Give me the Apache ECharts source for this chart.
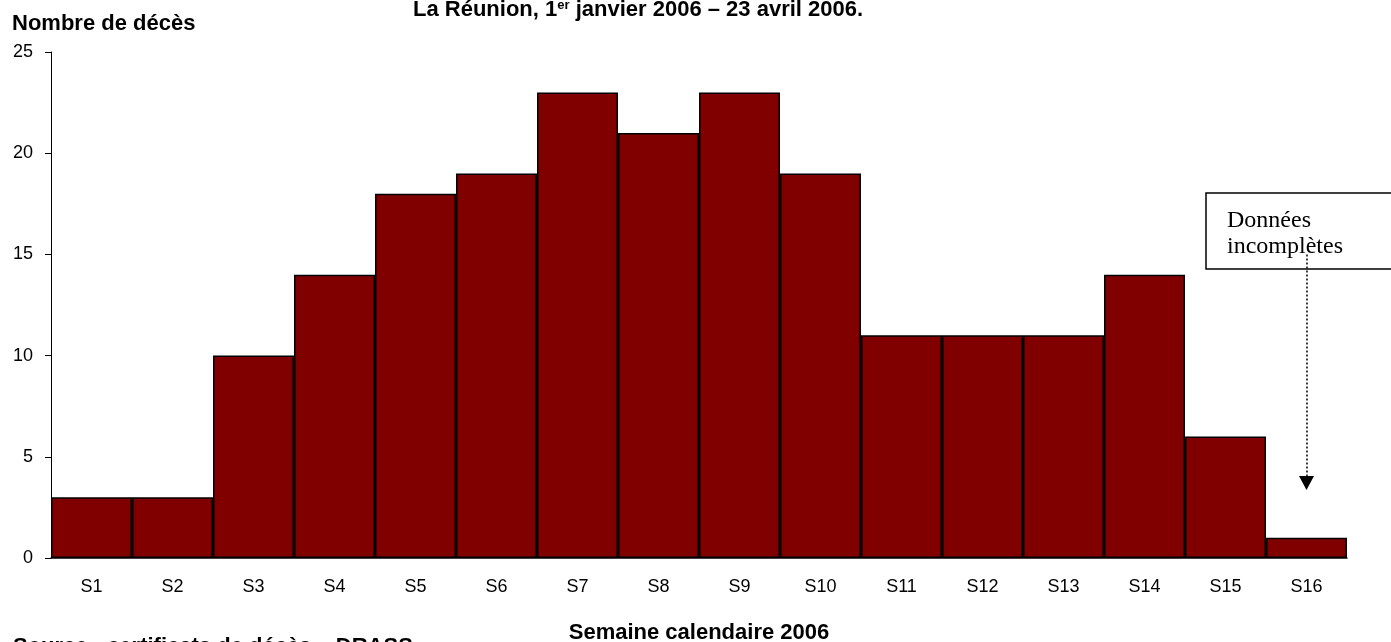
<!DOCTYPE html>
<html>
<head>
<meta charset="utf-8">
<script src="https://cdn.jsdelivr.net/npm/echarts@6/dist/echarts.min.js"></script>
<style>
  html, body { margin: 0; padding: 0; background: #fff; }
  #chart { width: 1391px; height: 642px; }
</style>
</head>
<body>
<div id="chart"></div>
<script>
// semaines calendaires 2006
const weeks = ['S1', 'S2', 'S3', 'S4', 'S5', 'S6', 'S7', 'S8', 'S9', 'S10', 'S11', 'S12', 'S13', 'S14', 'S15', 'S16'];
// nombre de décès par semaine
const deaths = [3, 3, 10, 14, 18, 19, 23, 21, 23, 19, 11, 11, 11, 14, 6, 1];
const yTicks = [0, 5, 10, 15, 20, 25];

const font = "'Liberation Sans', Arial, sans-serif";
const chart = echarts.init(document.getElementById('chart'));

chart.setOption({
  animation: false,
  grid: { left: 51, right: 44, top: 52, bottom: 84, outerBoundsMode: 'none', containLabel: false },
  xAxis: {
    type: 'category',
    data: weeks,
    name: 'Semaine calendaire 2006',
    nameLocation: 'middle',
    nameGap: 64,
    nameTextStyle: { fontFamily: font, fontSize: 22, fontWeight: 'bold', color: '#000' },
    axisLine: { lineStyle: { color: '#000', width: 1.5 } },
    axisTick: { show: false },
    axisLabel: { fontFamily: font, fontSize: 18, color: '#000', margin: 20 }
  },
  yAxis: {
    type: 'value',
    min: yTicks[0],
    max: yTicks[yTicks.length - 1],
    interval: 5,
    splitLine: { show: false },
    axisLine: { show: true, lineStyle: { color: '#000', width: 1 } },
    axisTick: { show: true, length: 6, lineStyle: { color: '#000' } },
    axisLabel: { fontFamily: font, fontSize: 18, color: '#000', margin: 18 }
  },
  series: [{
    type: 'bar',
    data: deaths,
    barCategoryGap: '0%',
    itemStyle: { color: '#800000', borderColor: '#000', borderWidth: 1.5 },
    // flèche pointillée "Données incomplètes"
    markLine: {
      silent: true,
      symbol: ['none', 'triangle'],
      symbolSize: [15, 14],
      label: { show: false },
      lineStyle: { color: '#000', type: [2, 2], width: 1.5 },
      data: [[
        { coord: ['S16', 15] },
        { coord: ['S16', 3.7] }
      ]]
    }
  }],
  graphic: [
    {
      type: 'text',
      left: 413, top: -1,
      style: {
        text: 'La Réunion, 1{sup|er} janvier 2006 – 23 avril 2006.',
        fontFamily: font, fontSize: 22, fontWeight: 'bold', fill: '#000',
        rich: { sup: { fontSize: 13, fontWeight: 'bold', verticalAlign: 'top', fontFamily: font } }
      }
    },
    {
      type: 'text',
      left: 12, top: 13,
      style: { text: 'Nombre de décès', fontFamily: font, fontSize: 22, fontWeight: 'bold', fill: '#000' }
    },
    {
      type: 'text',
      left: 13, top: 636,
      style: { text: 'Source : certificats de décès – DRASS', fontFamily: font, fontSize: 22, fontWeight: 'bold', fill: '#000' }
    },
    {
      type: 'rect',
      shape: { x: 1206, y: 193, width: 250, height: 76 },
      style: { fill: 'transparent', stroke: '#000', lineWidth: 1.5 }
    },
    {
      type: 'text',
      left: 1227, top: 208,
      style: {
        text: 'Données\nincomplètes',
        fontFamily: "'Liberation Serif', 'Times New Roman', serif",
        fontSize: 24, lineHeight: 26, fill: '#000'
      }
    }
  ]
});
</script>
</body>
</html>
